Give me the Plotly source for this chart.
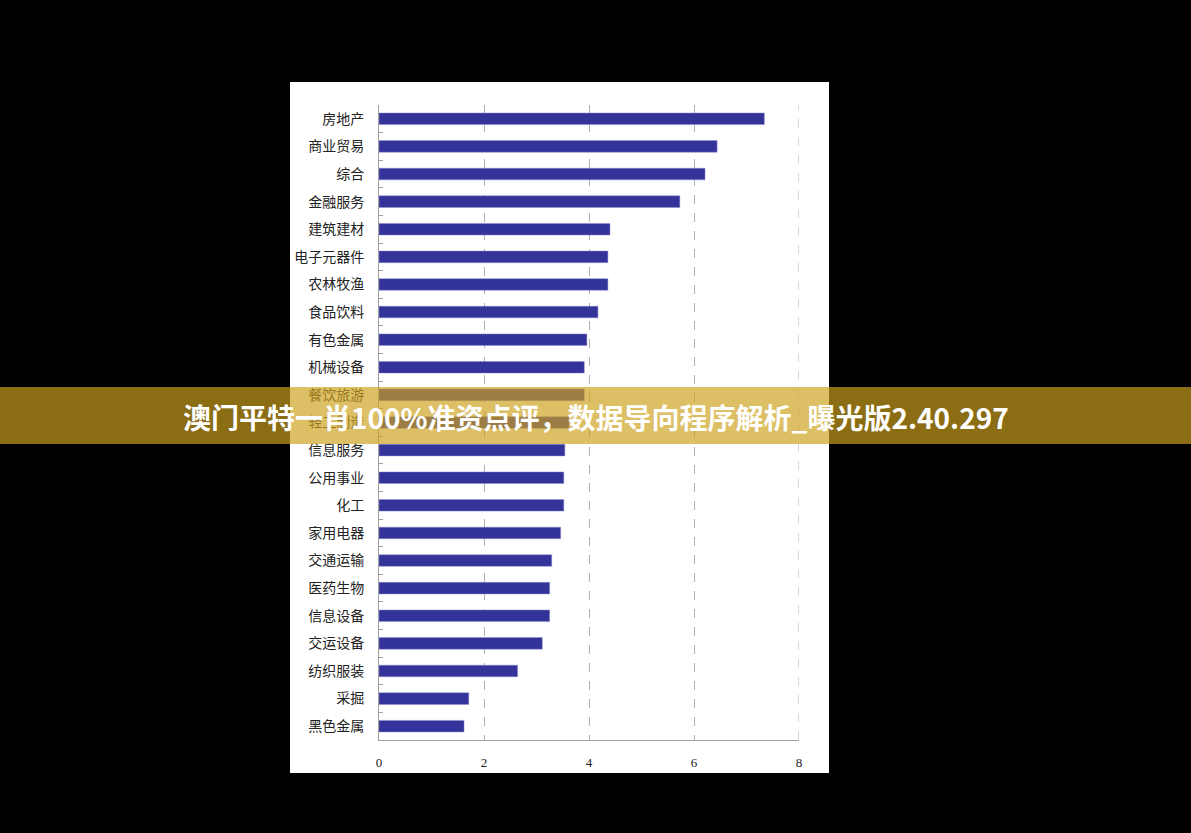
import plotly.graph_objects as go

categories = ["房地产", "商业贸易", "综合", "金融服务", "建筑建材", "电子元器件", "农林牧渔",
              "食品饮料", "有色金属", "机械设备", "餐饮旅游", "轻工制造", "信息服务", "公用事业",
              "化工", "家用电器", "交通运输", "医药生物", "信息设备", "交运设备", "纺织服装",
              "采掘", "黑色金属"]
values = [7.34, 6.44, 6.21, 5.73, 4.40, 4.36, 4.36,
          4.17, 3.96, 3.91, 3.91, 3.62, 3.54, 3.52,
          3.52, 3.46, 3.29, 3.25, 3.25, 3.11, 2.64,
          1.71, 1.62]
x_ticks = [0, 2, 4, 6, 8]
banner_text = "澳门平特一肖100%准资点评，数据导向程序解析_曝光版2.40.297"

W, H = 1191, 833
L, R, T, B = 379, 392, 105, 93
pw, ph = W - L - R, H - T - B

def px(x):
    return (x - L) / pw

def py(y):
    return 1 - (y - T) / ph

fig = go.Figure()
fig.add_trace(go.Bar(
    x=values, y=categories, orientation="h",
    marker=dict(color="#333399", line=dict(color="rgba(140,140,210,0.8)", width=0.6)),
    width=0.42,
))

fig.update_layout(
    width=W, height=H,
    margin=dict(l=L, r=R, t=T, b=B, pad=0),
    paper_bgcolor="#000000",
    plot_bgcolor="#ffffff",
    showlegend=False,
    xaxis=dict(
        range=[0, 8], tickvals=x_ticks, ticktext=[str(v) for v in x_ticks],
        showgrid=True, gridcolor="#b0b0b0", griddash="dash", gridwidth=1,
        showline=True, linecolor="#a0a0a0", linewidth=1,
        zeroline=False, ticks="", ticklabelstandoff=10,
        tickfont=dict(family="Liberation Serif", size=13, color="#222222"),
        fixedrange=True,
    ),
    yaxis=dict(
        type="category", categoryorder="array", categoryarray=categories,
        autorange="reversed",
        showgrid=False, showline=True, linecolor="#a0a0a0", linewidth=1,
        ticks="inside", tickson="boundaries", ticklen=4, tickcolor="#a0a0a0",
        ticklabelstandoff=11,
        tickfont=dict(family="Noto Sans CJK SC", size=14, color="#222222"),
        fixedrange=True,
    ),
    shapes=[
        dict(type="rect", xref="paper", yref="paper", layer="below",
             x0=px(290), x1=px(829), y0=py(773), y1=py(82),
             fillcolor="#ffffff", line=dict(width=0)),
        dict(type="line", xref="x", yref="paper", layer="below",
             x0=x_ticks[-1], x1=x_ticks[-1], y0=0, y1=1,
             line=dict(color="#b0b0b0", width=1, dash="dash")),
        dict(type="rect", xref="paper", yref="paper", layer="above",
             x0=px(0), x1=px(W), y0=py(444), y1=py(387),
             fillcolor="rgba(205,160,30,0.68)", line=dict(width=0)),
    ],
    annotations=[
        dict(text=banner_text, xref="paper", yref="paper",
             x=px(596), y=py(417), xanchor="center", yanchor="middle",
             showarrow=False,
             font=dict(family="Noto Sans CJK SC", size=28, color="#ffffff", weight="bold")),
    ],
)

fig.write_html("out.html", config={"displayModeBar": False})
